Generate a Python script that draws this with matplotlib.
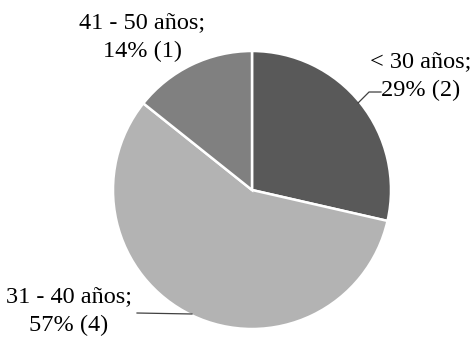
import matplotlib.pyplot as plt

grupos = ["< 30 años", "31 - 40 años", "41 - 50 años"]
personas = [2, 4, 1]
colores = ["#595959", "#b3b3b3", "#808080"]

total = sum(personas)
etiquetas = ["%s;\n%d%% (%d)" % (g, round(100.0 * n / total), n) for g, n in zip(grupos, personas)]

plt.rcParams["font.family"] = ["Liberation Serif", "DejaVu Serif"]
fig = plt.figure(figsize=(4.77, 3.42), dpi=100)
# centre of pie at (252, 190) px, radius about 139 px
r_px = 139
ax = fig.add_axes([(252 - r_px) / 477, (342 - 190 - r_px) / 342, 2 * r_px / 477, 2 * r_px / 342])
ax.pie(personas, colors=colores, startangle=90, counterclock=False, radius=1,
       wedgeprops=dict(edgecolor="white", linewidth=1.8))
ax.set_xlim(-1, 1)
ax.set_ylim(-1, 1)
ax.set_aspect("equal")
ax.axis("off")

pos = [(1.21, 0.82), (-1.32, -0.87), (-0.79, 1.10)]
for txt, (x, y) in zip(etiquetas, pos):
    ax.text(x, y, txt, ha="center", va="center", fontsize=17.5, linespacing=1.5,
            clip_on=False)

# leader lines
ax.plot([0.763, 0.842, 0.928], [0.626, 0.705, 0.705], color="#404040", lw=0.9, clip_on=False)
ax.plot([-0.827, -0.432], [-0.885, -0.892], color="#404040", lw=0.9, clip_on=False)

fig.savefig("out.png", dpi=100, facecolor="white")
